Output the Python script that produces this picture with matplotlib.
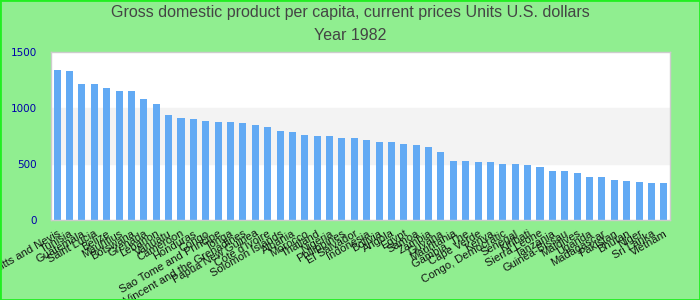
import matplotlib
matplotlib.use("Agg")
import matplotlib.pyplot as plt
from matplotlib.patches import Rectangle

countries = ["Saint Kitts and Nevis", "Tunisia", "Guatemala", "Saint Lucia", "Belize",
             "Mauritius", "Botswana", "Grenada", "Lebanon", "Vanuatu",
             "Cameroon", "Honduras", "Congo", "Sao Tome and Principe", "Tonga",
             "Saint Vincent and the Grenadines", "Papua New Guinea", "Cote d'Ivoire", "Solomon Islands", "Albania",
             "Morocco", "Thailand", "Nigeria", "Philippines", "El Salvador",
             "Indonesia", "Bolivia", "Angola", "Egypt", "Samoa",
             "Zambia", "Guyana", "Mauritania", "Gambia, The", "Cape Verde",
             "Kenya", "Congo, Democratic", "Senegal", "Kiribati", "Sierra Leone",
             "Tanzania", "Guinea-Bissau", "Maldives", "Uganda", "Madagascar",
             "Pakistan", "Bhutan", "Niger", "Sri Lanka", "Vietnam"]
values = [1339, 1330, 1214, 1214, 1179, 1152, 1152, 1080, 1036, 938,
          911, 902, 884, 875, 875, 866, 848, 830, 795, 786,
          759, 750, 750, 732, 732, 714, 696, 696, 679, 670,
          652, 607, 527, 527, 518, 518, 500, 500, 491, 473,
          438, 438, 420, 384, 384, 357, 348, 339, 330, 330]
yticks = [0, 500, 1000, 1500]
title_lines = ["Gross domestic product per capita, current prices Units U.S. dollars", "Year 1982"]

fig = plt.figure(figsize=(7, 3), dpi=100, facecolor="#90ee90")
fig.patches.append(Rectangle((0, 0), 1, 1, transform=fig.transFigure, fill=False,
                             edgecolor="#22ee22", linewidth=2))
ax = fig.add_axes([51/700, 1-220/300, (670-51)/700, (220-52)/300])
ax.set_facecolor("white")
ax.axhspan(500, 1000, color="#f3f3f3", zorder=0)

x = range(len(values))
ax.bar(x, values, width=0.57, color="#62aaf4", zorder=2)
ax.set_xlim(-0.5, len(values) - 0.5)
ax.set_ylim(0, 1500)
ax.set_yticks(yticks)
ax.set_yticklabels([str(v) for v in yticks], color="#0000aa", fontsize=7.5, family="DejaVu Sans")
ax.tick_params(axis="y", length=0, pad=10)
ax.tick_params(axis="x", length=0, pad=6)
ax.set_xticks(list(x))
ax.set_xticklabels(countries, rotation=30, ha="right", rotation_mode="anchor",
                   fontsize=8, family="Liberation Sans", color="#111111")
for s in ax.spines.values():
    s.set_color("#cccccc")
    s.set_linewidth(1)

fig.text(0.5, 1-12/300, title_lines[0], ha="center", va="center", fontsize=11.5,
         family="Liberation Sans", color="#444444")
fig.text(0.5, 1-36/300, title_lines[1], ha="center", va="center", fontsize=11.5,
         family="Liberation Sans", color="#444444")

fig.savefig("out.png", dpi=100, facecolor=fig.get_facecolor())
